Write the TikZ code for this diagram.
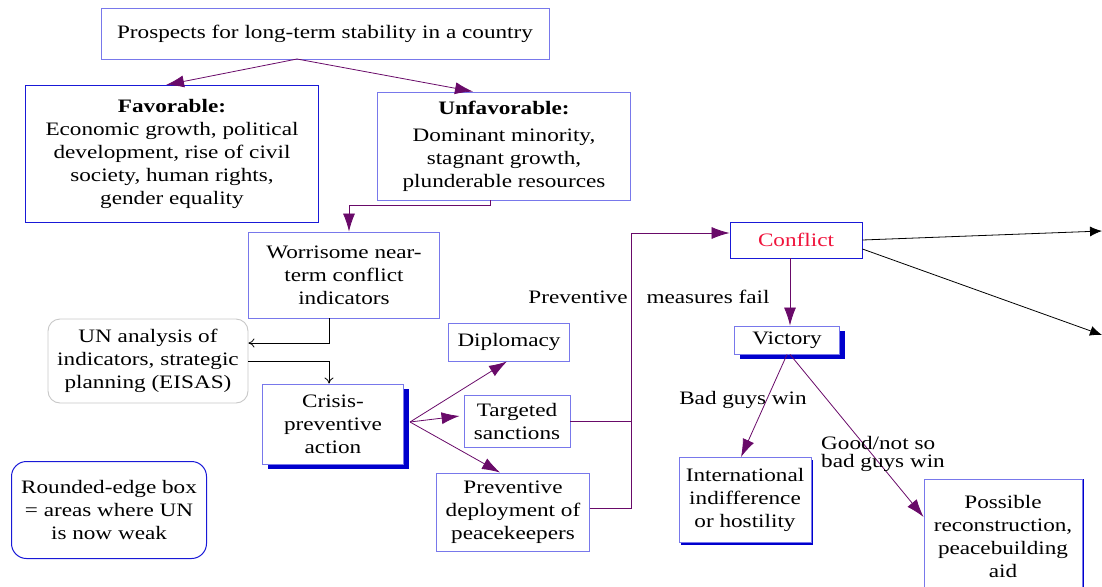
\documentclass[tikz,border=0pt]{standalone}
\usepackage{fontspec}
\setmainfont{Liberation Serif}[FakeStretch=1.22]
\usetikzlibrary{arrows.meta,shadows}
\definecolor{boxlight}{RGB}{120,120,235}
\definecolor{boxdark}{RGB}{25,25,215}
\definecolor{shblue}{RGB}{0,0,205}
\definecolor{unfrom}{RGB}{200,200,200}
\definecolor{purp}{RGB}{105,10,105}
\definecolor{redtxt}{RGB}{240,20,60}
\begin{document}
\begin{tikzpicture}[x=1pt,y=-1pt,
    every node/.style = {align=center, inner sep=0pt,
      font=\fontsize{19}{23}\selectfont},
    box/.style = {draw=boxlight, line width=0.9pt, fill=white},
    darkbox/.style = {box, draw=boxdark, line width=1.1pt},
    softbox/.style = {box, draw=unfrom, rounded corners=12pt},
    shbox/.style = {box, drop shadow={shadow xshift=5pt, shadow yshift=-5pt,
      fill=shblue, opacity=1}},
    lbl/.style = {fill=none},
    pl/.style = {draw=purp, line width=0.8pt,
      -{Latex[length=18pt,width=12pt]}},
    blk/.style = {draw=black, line width=0.8pt, -{To[length=6pt,width=9pt]}},
    far/.style = {draw=black, line width=0.8pt,
      -{Latex[length=12pt,width=10pt]}}]
  \useasboundingbox (0,0) rectangle (1102,586);

  % stability and its two sides
  \node[box, minimum width=448pt, minimum height=51pt] (prospects) at (325,34)
    {\raisebox{-3pt}{Prospects for long-term stability in a country}};
  \node[darkbox, minimum width=293pt, minimum height=137pt] (fav) at (172,154)
    {\textbf{Favorable:}\\Economic growth, political\\development, rise of civil\\society, human rights,\\gender equality};
  \node[box, minimum width=253pt, minimum height=108pt] (unfav) at (504,146)
    {\textbf{Unfavorable:}\\[4pt]Dominant minority,\\stagnant growth,\\plunderable resources};

  % early warning
  \node[box, minimum width=191pt, minimum height=86pt] (worry) at (344,275)
    {Worrisome near-\\term conflict\\indicators};
  \node[softbox, minimum width=200pt, minimum height=84pt] (un) at (148,361)
    {UN analysis of\\indicators, strategic\\planning (EISAS)};
  \node[shbox, minimum width=141pt, minimum height=80pt] (crisis) at (333,424)
    {Crisis-\\preventive\\action};
  \node[draw=boxdark, line width=1pt, rounded corners=15pt,
    minimum width=195pt, minimum height=97pt] (legend) at (109,510)
    {Rounded-edge box\\= areas where UN\\is now weak};

  % preventive measures
  \node[box, minimum width=121pt, minimum height=38pt] (diplo) at (509,342) {Diplomacy};
  \node[box, minimum width=106pt, minimum height=52pt] (sanct) at (517,421) {Targeted\\sanctions};
  \node[box, minimum width=153pt, minimum height=78pt] (deploy) at (513,512)
    {Preventive\\deployment of\\peacekeepers};

  % conflict and outcomes
  \node[box, draw=boxdark, minimum width=132pt, minimum height=36pt,
    text=redtxt] (conflict) at (796,240) {Conflict};
  \node[shbox, minimum width=105pt, minimum height=28pt] (victory) at (787,340) {Victory};
  \node[box, drop shadow={shadow xshift=2pt, shadow yshift=-2pt, fill=shblue, opacity=1},
    minimum width=132pt, minimum height=85pt] (intl) at (745,500)
    {International\\indifference\\or hostility};
  \node[box, drop shadow={shadow xshift=2pt, shadow yshift=0pt, fill=shblue, opacity=1},
    minimum width=158pt, minimum height=114pt] (possible) at (1003,536)
    {Possible\\reconstruction,\\peacebuilding\\aid};

  \coordinate (split) at (297,59);
  \coordinate (fan) at (410,422);
  \coordinate (bend) at (631,233);
  \coordinate (out1) at (1102,231);
  \coordinate (out2) at (1102,335);

  % connectors
  \draw[pl] (split) -- ([xshift=-6pt]fav.north);
  \draw[pl] (split) -- ([xshift=-31pt]unfav.north);
  \draw[pl] ([xshift=-14pt]unfav.south) -- ++(0,5) -| ([xshift=5pt]worry.north);
  \draw[blk] ([xshift=-15pt]worry.south) |- ([yshift=18pt]un.east);
  \draw[blk] (un.east) -| ([xshift=-4pt]crisis.north);
  \draw[pl] (fan) -- ([xshift=-2pt]diplo.south);
  \draw[pl] (fan) -- ([xshift=-4pt,yshift=5pt]sanct.west);
  \draw[pl] (fan) -- ([xshift=-13pt]deploy.north);
  \draw[pl] (sanct.east) -| (bend) -- ([yshift=7pt]conflict.west);
  \draw[purp, line width=0.8pt] ([yshift=4pt]deploy.east) -| (bend);
  \draw[pl] ([xshift=-6pt]conflict.south) -- ([xshift=-6pt]conflict.south |- victory.north);
  \draw[pl] (victory.south) -- ([xshift=-4pt]intl.north);
  \draw[pl] ([xshift=3pt]victory.south) -- ([yshift=19pt]possible.west);
  \draw[far] (conflict.east) -- (out1);
  \draw[far] ([yshift=-9pt]conflict.east) -- (out2);

  % edge labels
  \node[lbl] (prevlbl) at (578,297) {Preventive};
  \node[lbl] (faillbl) at (708,297) {measures fail};
  \node[lbl] (badlbl) at (743,400) {Bad guys win};
  \node[lbl, align=left] (goodlbl) at (883,454) {Good/not so\\[-5pt]bad guys win};
\end{tikzpicture}
\end{document}
